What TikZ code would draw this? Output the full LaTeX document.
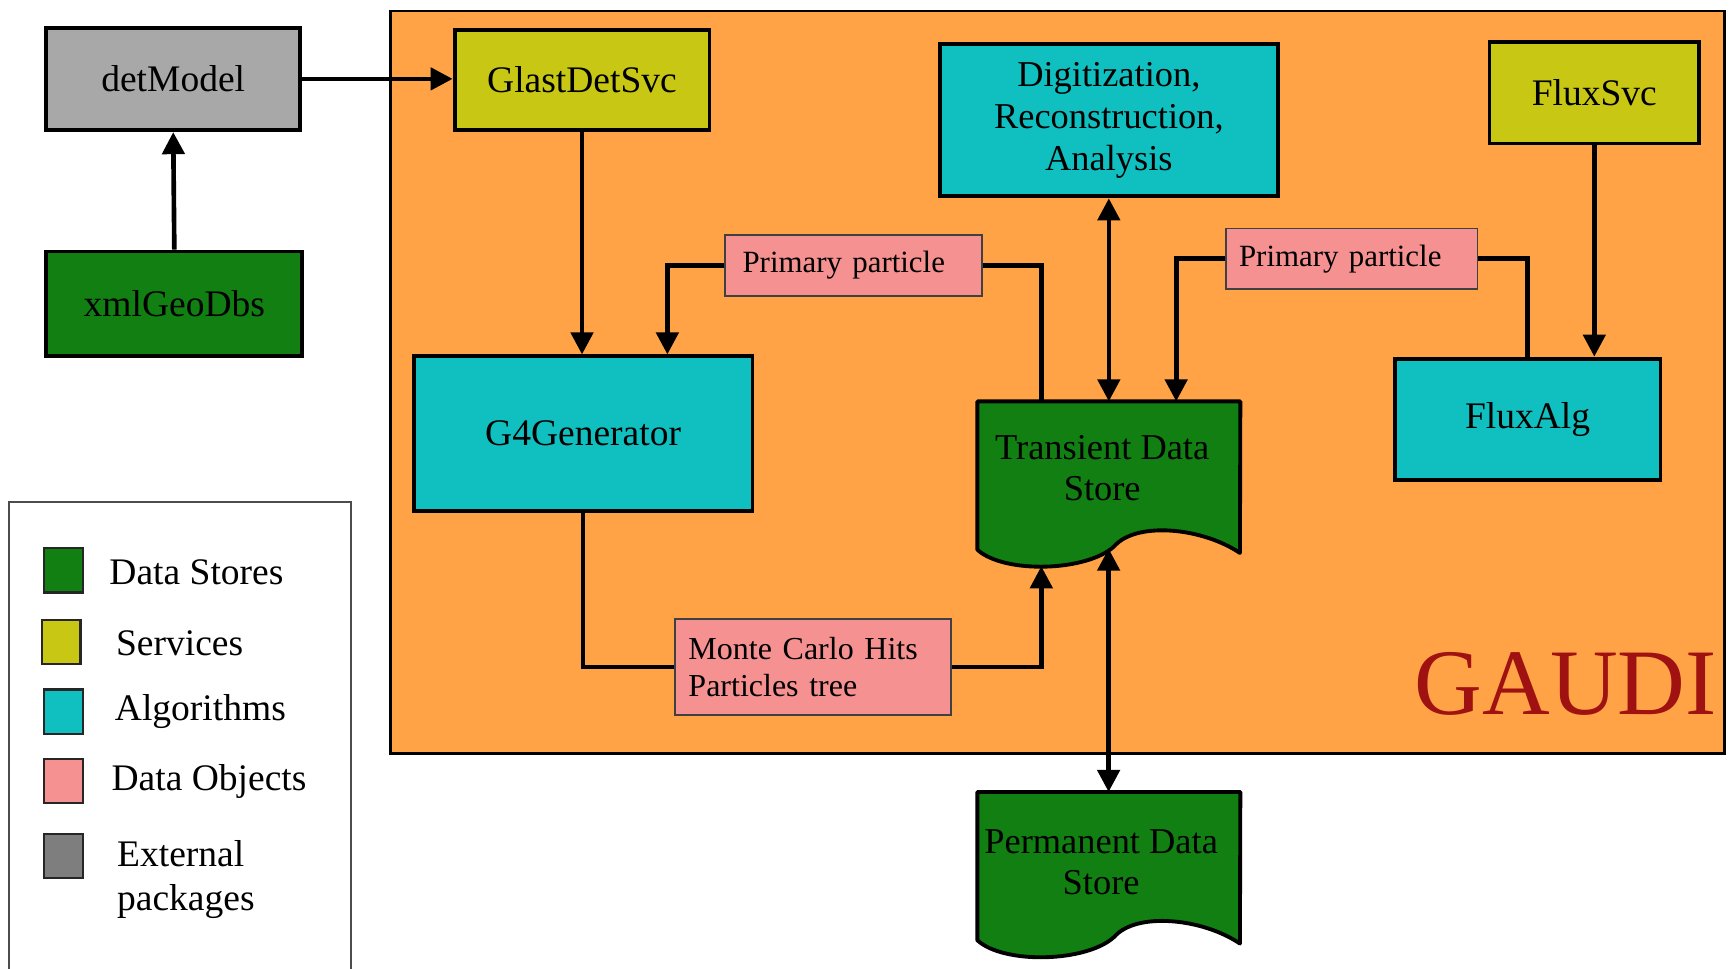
\documentclass[tikz,border=0pt]{standalone}
\usepackage{fontspec}
\setmainfont{Liberation Serif}
\usetikzlibrary{arrows.meta,calc}
\definecolor{cgray}{HTML}{A8A8A8}
\definecolor{cdgray}{HTML}{7E7E7E}
\definecolor{cgreen}{HTML}{117F11}
\definecolor{cyel}{HTML}{C8C814}
\definecolor{ccyan}{HTML}{10C0C0}
\definecolor{cpink}{HTML}{F59191}
\definecolor{corange}{HTML}{FFA346}
\definecolor{cred}{HTML}{A01212}
\newcommand{\docshape}[1]{%
  \draw[line width=3.5pt, fill=cgreen, line join=round]
    (#1.north west) -- (#1.north east) -- ($(#1.south west)+(238,1)$)
    .. controls ($(#1.south west)+(204,-22)$) and ($(#1.south west)+(144,-28)$) .. ($(#1.south west)+(124,-5)$)
    .. controls ($(#1.south west)+(99,18)$) and ($(#1.south west)+(24,20)$) .. ($(#1.south west)+(0,-2)$)
    -- cycle;}
\begin{document}
\begin{tikzpicture}[x=1pt,y=-1pt,
  box/.style={draw=black, line width=3.5pt, inner sep=0pt, align=center, font=\fontsize{34}{39}\selectfont},
  dobj/.style={draw=black!75, line width=1.5pt, fill=cpink, inner ysep=0pt, align=left, font=\fontsize{28}{33}\selectfont},
  conn/.style={line width=4.2pt},
  arr/.style={conn, -{Triangle[length=20pt,width=20pt]}},
  darr/.style={conn, {Triangle[length=20pt,width=20pt]}-{Triangle[length=20pt,width=20pt]}},
  legsq/.style={draw=black!85, line width=2pt, minimum width=35, minimum height=40, inner sep=0pt},
  legtxt/.style={anchor=west, inner sep=0pt, align=left, font=\fontsize{34}{40}\selectfont},
  doctxt/.style={inner sep=0pt, align=center, font=\fontsize{33}{37}\selectfont},
]
\useasboundingbox (0,0) rectangle (1568,878);
\fill[white] (0,0) rectangle (1568,878);

% legend
\draw[line width=1.5pt, draw=black!70] (8,455) rectangle (318,900);
\node[legsq, fill=cgreen] (l1) at (57.5,517) {};
\node[legtxt] (t1) at (99,519) {Data Stores};
\node[legsq, fill=cyel] (l2) at (55.5,582) {};
\node[legtxt] (t2) at (105,583) {Services};
\node[legsq, fill=ccyan] (l3) at (57.5,645) {};
\node[legtxt] (t3) at (104,645) {Algorithms};
\node[legsq, fill=cpink] (l4) at (57.5,708) {};
\node[legtxt] (t4) at (101,708) {Data Objects};
\node[legsq, fill=cdgray] (l5) at (57.5,776) {};
\node[legtxt] (t5) at (106,797) {External\\packages};

% left boxes
\node[box, fill=cgray, minimum width=230, minimum height=93] (det) at (157,71.5) {detModel};
\node[box, fill=cgreen, minimum width=232, minimum height=95] (xml) at (158,275.5) {xmlGeoDbs};

% GAUDI frame
\draw[line width=2.5pt, fill=corange] (354,10) rectangle (1563,683);
\node[anchor=base west, inner sep=0pt, text=cred, font=\fontsize{85}{85}\selectfont] (gaudi) at (1282,648) {GAUDI};

% boxes inside
\node[box, fill=cyel, minimum width=231, minimum height=91] (glast) at (527.5,72.5) {GlastDetSvc};
\node[box, fill=ccyan, minimum width=306, minimum height=138, font=\fontsize{33}{38}\selectfont] (dig) at (1005,109) {Digitization,\\Reconstruction,\\Analysis};
\node[box, fill=cyel, minimum width=190, minimum height=92] (fs) at (1445,84) {FluxSvc};
\node[box, fill=ccyan, minimum width=307, minimum height=140] (g4) at (528.5,393) {G4Generator};
\node[box, fill=ccyan, minimum width=241, minimum height=110] (fa) at (1384.5,380) {FluxAlg};
\node[dobj, inner xsep=16pt, text width=201pt, minimum height=55] (pp1) at (773.5,240.5) {Primary particle};
\node[dobj, inner xsep=12pt, text width=204pt, minimum height=55] (pp2) at (1225,234.5) {Primary particle};
\node[dobj, inner xsep=12pt, text width=226pt, minimum height=87, font=\fontsize{29}{33}\selectfont] (mc) at (737,604.5) {Monte Carlo Hits\\Particles tree};

% data stores
\node[minimum width=238, minimum height=136, inner sep=0pt] (tds) at (1005,432) {};
\docshape{tds}
\node[doctxt] (tdst) at (999,424.5) {Transient Data\\Store};
\node[minimum width=238, minimum height=136, inner sep=0pt] (pds) at (1005,786) {};
\docshape{pds}
\node[doctxt] (pdst) at (998,781.5) {Permanent Data\\Store};

% connectors
\draw[arr] (xml.north) -- (det.south);
\draw[arr] (det.east) -- (det.east -| glast.west);
\draw[arr] (glast.south) -- (glast.south |- g4.north);
\draw[arr] (pp1.west) -| ($(g4.north west)!0.746!(g4.north east)$);
\draw[conn] (pp1.east) -| ($(tds.north west)!0.244!(tds.north east)$);
\draw[darr] (dig.south) -- (tds.north);
\draw[arr] (pp2.west) -| ($(tds.north west)!0.756!(tds.north east)$);
\draw[conn] (pp2.east) -| (fa.north);
\draw[arr] (fs.south) -- (fs.south |- fa.north);
\draw[conn] (g4.south) |- (mc.west);
\coordinate (tdsb1) at ($(tds.south west)+(58,13)$);
\draw[arr] (mc.east) -| (tdsb1);
\coordinate (tdsb2) at ($(tds.south west)+(119,-3)$);
\draw[darr] (tdsb2) -- (tdsb2 |- pds.north);
\end{tikzpicture}
\end{document}
